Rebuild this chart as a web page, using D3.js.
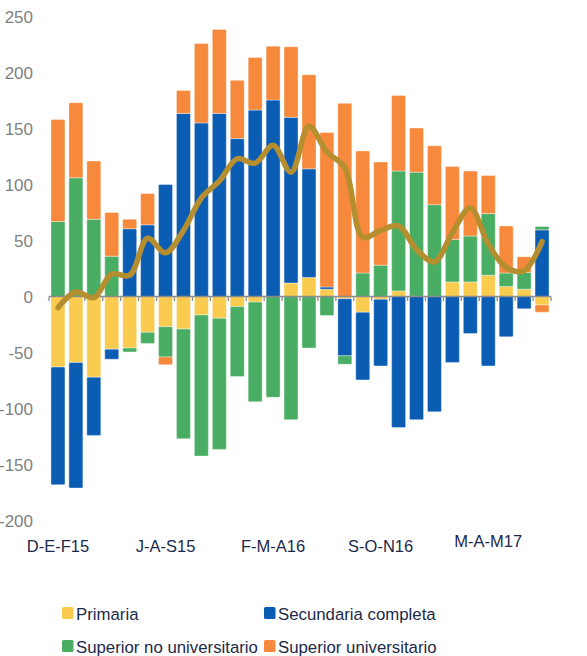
<!DOCTYPE html>
<html lang="es">
<head>
<meta charset="utf-8">
<title>Empleo por nivel educativo</title>
<script src="https://d3js.org/d3.v7.min.js"></script>
<style>
  body { margin: 0; background: #fff; }
  svg { display: block; font-family: "Liberation Sans", Arial, sans-serif; }
</style>
</head>
<body>
<div id="chart"></div>
<script>
// values per bar (28 moving quarters, D-E-F15 ... M-A-M17)
var primaria     = [-63, -59, -72, -47, -46, -32, -27, -29, -16.5, -19.5, -9, -5, 0, 12, 17, 6.5, -2, -14, -2.5, 5, 0, 0, 13, 13, 19, 9, 6.5, -7.5];
var secundaria   = [-105, -112, -52, -9, 60.5, 64, 100, 163.5, 155, 163.5, 141, 166.5, 175.5, 148, 97, 2, -51, -60.5, -59.5, -117, -110, -103, -59, -33, -62, -36, -11, 59.5];
var supNoUniv    = [67, 106, 69, 36, -3.5, -10, -27, -98, -126, -117, -62.5, -89, -90, -110, -46, -17, -7.5, 21, 28, 107, 111, 82, 38, 41, 55, 12, 15, 3];
var supUniv      = [91, 67, 52, 39, 8.5, 28, -7, 20.5, 71, 75, 52, 47, 48, 63, 84, 138, 172.5, 109, 92, 67.5, 39.5, 52.5, 65, 58, 34, 42, 14, -6.5];
var total        = [-10, 4, -1, 20, 19, 52, 39, 59, 88, 103, 123, 119, 135, 111, 152, 129, 115, 53, 59, 63, 42, 31, 57, 79, 47, 26, 23, 49];

var tickLabels = ["D-E-F15", "J-A-S15", "F-M-A16", "S-O-N16", "M-A-M17"];
var tickIndex  = [0, 6, 12, 18, 24];
var yTicks     = [250, 200, 150, 100, 50, 0, -50, -100, -150, -200];

var seriesNames  = ["Primaria", "Secundaria completa", "Superior no universitario", "Superior universitario"];
var seriesColors = ["#f9cc50", "#0b5db3", "#49ae63", "#f6893b"];

var W = 587, H = 656;
var svg = d3.select("#chart").append("svg")
    .attr("width", W)
    .attr("height", H);

// build rows for d3.stack
var rows = total.map(function(t, i) {
  return { i: i, s0: primaria[i], s1: secundaria[i], s2: supNoUniv[i], s3: supUniv[i] };
});
var keys = ["s0", "s1", "s2", "s3"];

var x = d3.scaleBand()
    .domain(d3.range(total.length))
    .range([49, 551])
    .paddingInner(0.22)
    .paddingOuter(0.11);

var y = d3.scaleLinear()
    .domain([-200, 250])
    .range([520.5, 16.5]);

var stacked = d3.stack()
    .keys(keys)
    .offset(d3.stackOffsetDiverging)(rows);

// bars
svg.append("g")
  .selectAll("g")
  .data(stacked)
  .join("g")
    .attr("fill", function(d, k) { return seriesColors[k]; })
  .selectAll("rect")
  .data(function(d) { return d; })
  .join("rect")
    .attr("x", function(d) { return x(d.data.i); })
    .attr("width", x.bandwidth())
    .attr("y", function(d) { return y(Math.max(d[0], d[1])); })
    .attr("height", function(d) { return Math.abs(y(d[0]) - y(d[1])); })
    .attr("rx", 1.2)
    .attr("stroke", "#fff")
    .attr("stroke-opacity", 0.45)
    .attr("stroke-width", 0.8);

// zero axis with ticks at slot boundaries
var axisG = svg.append("g").attr("stroke", "#8c8c8c").attr("stroke-width", 1.3);
axisG.append("line")
    .attr("x1", x.range()[0]).attr("x2", x.range()[1])
    .attr("y1", y(0)).attr("y2", y(0));
axisG.selectAll("line.tick")
  .data(d3.range(total.length + 1))
  .join("line")
    .attr("class", "tick")
    .attr("x1", function(i) { return x.range()[0] + i * x.step(); })
    .attr("x2", function(i) { return x.range()[0] + i * x.step(); })
    .attr("y1", y(0))
    .attr("y2", y(0) + 4.5);

// total line
var line = d3.line()
    .x(function(d, i) { return x(i) + x.bandwidth() / 2; })
    .y(function(d) { return y(d); })
    .curve(d3.curveCatmullRom.alpha(0.5));

svg.append("path")
    .datum(total)
    .attr("fill", "none")
    .attr("stroke", "#b58f2f")
    .attr("stroke-width", 5.5)
    .attr("stroke-linejoin", "round")
    .attr("stroke-linecap", "round")
    .attr("d", line);

// y labels
svg.append("g")
  .selectAll("text")
  .data(yTicks)
  .join("text")
    .attr("x", 33)
    .attr("y", function(d) { return y(d); })
    .attr("dy", "0.36em")
    .attr("text-anchor", "end")
    .attr("fill", "#7f7f7f")
    .style("font-size", "17px")
    .text(function(d) { return d; });

// x labels
svg.append("g")
  .selectAll("text")
  .data(tickLabels)
  .join("text")
    .attr("x", function(d, k) { return x(tickIndex[k]) + x.bandwidth() / 2; })
    .attr("y", function(d, k) { return k === tickLabels.length - 1 ? 547 : 552; })
    .attr("text-anchor", "middle")
    .attr("fill", "#1b2a4a")
    .style("font-size", "16.5px")
    .text(function(d) { return d; });

// legend
var legendPos = [[62, 607], [264, 607], [62, 640], [264, 640]];
var lg = svg.append("g")
  .selectAll("g")
  .data(seriesNames)
  .join("g")
    .attr("transform", function(d, k) { return "translate(" + legendPos[k][0] + "," + legendPos[k][1] + ")"; });
lg.append("rect")
    .attr("width", 11.5)
    .attr("height", 12)
    .attr("rx", 1.5)
    .attr("fill", function(d, k) { return seriesColors[k]; });
lg.append("text")
    .attr("x", 14)
    .attr("y", 12.5)
    .attr("fill", "#1b2a4a")
    .style("font-size", "16.8px")
    .text(function(d) { return d; });
</script>
</body>
</html>
